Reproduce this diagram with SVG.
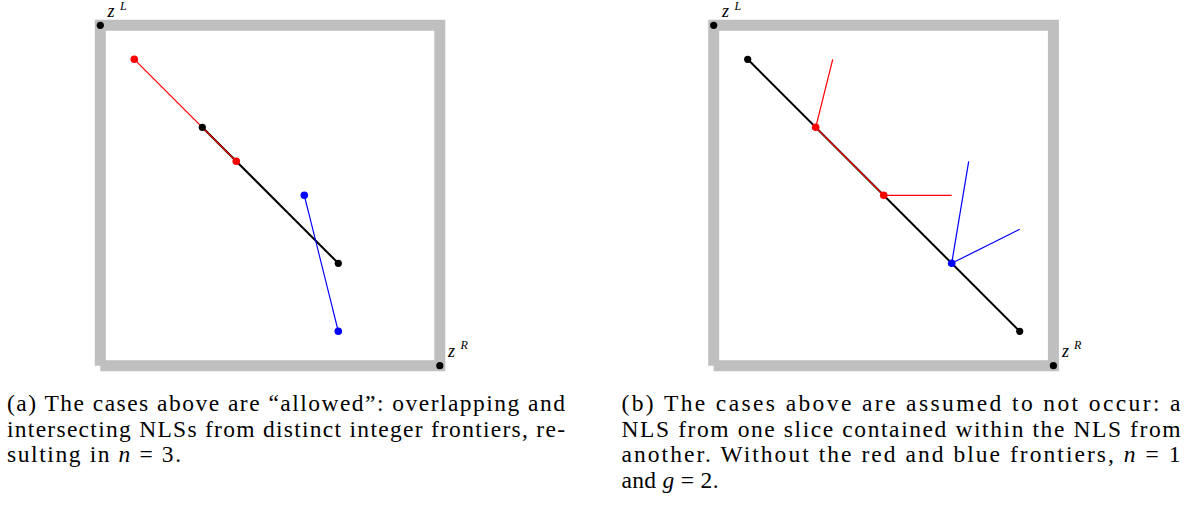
<svg xmlns="http://www.w3.org/2000/svg" width="1195" height="505" viewBox="0 0 1195 505">
<style>
.frame{fill:none;stroke:#bfbfbf;stroke-width:11;stroke-linejoin:miter;stroke-linecap:butt}
.blk{stroke:#000;stroke-width:2;fill:none}
.red{stroke:#ff0000;stroke-width:1.2;fill:none}
.blu{stroke:#0000ff;stroke-width:1.2;fill:none}
.dk{fill:#000}
.dr{fill:#ff0000}
.db{fill:#0000ff}
</style>
<rect width="1195" height="505" fill="#fff"/>
<!-- Panel (a) -->
<g id="panel-a">
<path class="frame" d="M100.3,365.7 V25.3 H439.8 V365.7 H100.3"/>
<g id="a-connectors">
<line class="blk" x1="202.3" y1="127.3" x2="338.3" y2="263.3"/>
<line class="red" x1="134.3" y1="59.3" x2="236.3" y2="161.3"/>
<line class="blu" x1="304.3" y1="195.3" x2="338.3" y2="331.3"/>
</g>
<g id="a-zL"><circle class="dk" cx="100.3" cy="25.3" r="3.6"/><text x="107.5" y="17" font-family="Liberation Serif, serif" font-style="italic" font-size="18">z</text><text x="120" y="9.5" font-family="Liberation Serif, serif" font-style="italic" font-size="12">L</text></g>
<g id="a-zR"><circle class="dk" cx="439.8" cy="365.7" r="3.6"/><text x="448" y="356.7" font-family="Liberation Serif, serif" font-style="italic" font-size="18">z</text><text x="460.5" y="349.3" font-family="Liberation Serif, serif" font-style="italic" font-size="12">R</text></g>
<g id="a-red1"><circle class="dr" cx="134.3" cy="59.3" r="3.8"/></g>
<g id="a-blk1"><circle class="dk" cx="202.3" cy="127.3" r="3.6"/></g>
<g id="a-red2"><circle class="dr" cx="236.3" cy="161.3" r="3.8"/></g>
<g id="a-blk2"><circle class="dk" cx="338.3" cy="263.3" r="3.6"/></g>
<g id="a-blu1"><circle class="db" cx="304.3" cy="195.3" r="3.8"/></g>
<g id="a-blu2"><circle class="db" cx="338.3" cy="331.3" r="3.8"/></g>
</g>
<!-- Panel (b) -->
<g id="panel-b">
<path class="frame" d="M713.7,365.7 V25.3 H1053.4 V365.7 H713.7"/>
<g id="b-connectors">
<line class="blk" x1="747.7" y1="59.3" x2="1019.7" y2="331.3"/>
<line class="red" x1="815.7" y1="127.3" x2="883.7" y2="195.3"/>
<line class="red" x1="815.7" y1="127.3" x2="832.7" y2="59.3"/>
<line class="red" x1="883.7" y1="195.3" x2="951.7" y2="195.3"/>
<line class="blu" x1="951.7" y1="263.3" x2="968.7" y2="161.3"/>
<line class="blu" x1="951.7" y1="263.3" x2="1019.7" y2="229.3"/>
</g>
<g id="b-zL"><circle class="dk" cx="713.7" cy="25.3" r="3.6"/><text x="722" y="17" font-family="Liberation Serif, serif" font-style="italic" font-size="18">z</text><text x="734.5" y="9.5" font-family="Liberation Serif, serif" font-style="italic" font-size="12">L</text></g>
<g id="b-zR"><circle class="dk" cx="1053.4" cy="365.7" r="3.6"/><text x="1062" y="356.7" font-family="Liberation Serif, serif" font-style="italic" font-size="18">z</text><text x="1074" y="349.3" font-family="Liberation Serif, serif" font-style="italic" font-size="12">R</text></g>
<g id="b-blk1"><circle class="dk" cx="747.7" cy="59.3" r="3.6"/></g>
<g id="b-blk2"><circle class="dk" cx="1019.7" cy="331.3" r="3.6"/></g>
<g id="b-red1"><circle class="dr" cx="815.7" cy="127.3" r="3.8"/></g>
<g id="b-red2"><circle class="dr" cx="883.7" cy="195.3" r="3.8"/></g>
<g id="b-blu1"><circle class="db" cx="951.7" cy="263.3" r="3.8"/></g>
</g>
<!-- Captions -->
<g id="caption-a" font-family="Liberation Serif, serif" font-size="23.5" fill="#000">
<text x="7" y="411" textLength="558" lengthAdjust="spacing">(a) The cases above are “allowed”: overlapping and</text>
<text x="7" y="436.7" textLength="558" lengthAdjust="spacing">intersecting NLSs from distinct integer frontiers, re-</text>
<text x="7" y="462.4" textLength="174" lengthAdjust="spacing">sulting in <tspan font-style="italic">n</tspan> = 3.</text>
</g>
<g id="caption-b" font-family="Liberation Serif, serif" font-size="23.5" fill="#000">
<text x="621.5" y="411" textLength="559" lengthAdjust="spacing">(b) The cases above are assumed to not occur: a</text>
<text x="621.5" y="436.7" textLength="559" lengthAdjust="spacing">NLS from one slice contained within the NLS from</text>
<text x="621.5" y="462.4" textLength="559" lengthAdjust="spacing">another. Without the red and blue frontiers, <tspan font-style="italic">n</tspan> = 1</text>
<text x="621.5" y="488.1" textLength="97" lengthAdjust="spacing">and <tspan font-style="italic">g</tspan> = 2.</text>
</g>
</svg>
